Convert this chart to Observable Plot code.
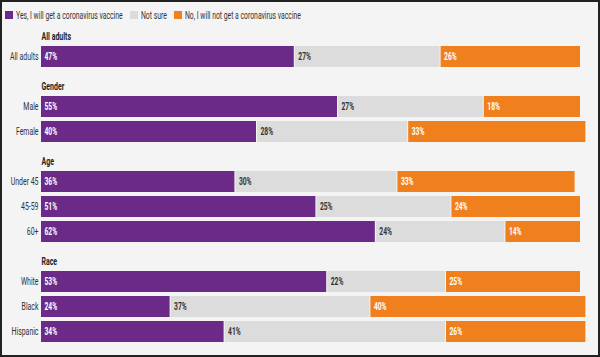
<!DOCTYPE html>
<html><head><meta charset="utf-8">
<script src="https://cdn.jsdelivr.net/npm/d3@7"></script>
<script src="https://cdn.jsdelivr.net/npm/@observablehq/plot@0.6"></script>
<style>
body{margin:0;}
#frame{width:600px;height:357px;box-sizing:border-box;border:2px solid #222;background:#f4f4f4;font-family:Roboto,sans-serif;color:#333;overflow:hidden;}
#legend{height:26px;display:flex;align-items:center;padding-left:3px;font-size:10.5px;white-space:nowrap;}
.item{display:flex;align-items:center;margin-right:7px;}
.sw{width:8px;height:8px;margin-right:3px;flex:none;}
.item span{display:inline-block;transform-origin:0 50%;}
#chart svg{display:block;}
</style></head><body>
<div id="frame"><div id="legend"></div><div id="chart"></div></div>
<script>
const seriesNames = ["Yes, I will get a coronavirus vaccine", "Not sure", "No, I will not get a coronavirus vaccine"];
const seriesColors = ["#6b2a87", "#dcdcdc", "#f07f1e"];
const groups = ["All adults", "Gender", "Age", "Race"];
const rowLabels = ["All adults", "Male", "Female", "Under 45", "45-59", "60+", "White", "Black", "Hispanic"];
const rowGroup = ["All adults", "Gender", "Gender", "Age", "Age", "Age", "Race", "Race", "Race"];
const yesValues = [47, 55, 40, 36, 51, 62, 53, 24, 34];
const notSureValues = [27, 27, 28, 30, 25, 24, 22, 37, 41];
const noValues = [26, 18, 33, 33, 24, 14, 25, 40, 26];

const seriesValues = [yesValues, notSureValues, noValues];
const data = [];
rowLabels.forEach((r, i) => {
  seriesValues.forEach((arr, j) => data.push({row: r, group: rowGroup[i], series: seriesNames[j], value: arr[i]}));
});
const domain = [];
groups.forEach((g, gi) => {
  if (gi > 0) domain.push("__" + g);
  rowLabels.forEach((r, i) => { if (rowGroup[i] === g) domain.push(r); });
});
const headers = groups.map(g => ({group: g, row: rowLabels[rowGroup.indexOf(g)]}));

// legend (condensed text)
const legend = document.getElementById("legend");
const legendScale = 0.65;
seriesNames.forEach((s, i) => {
  const it = document.createElement("div"); it.className = "item";
  const sw = document.createElement("div"); sw.className = "sw"; sw.style.background = seriesColors[i];
  const tx = document.createElement("span"); tx.textContent = s;
  it.appendChild(sw); it.appendChild(tx); legend.appendChild(it);
  const w = tx.getBoundingClientRect().width;
  tx.style.transform = `scaleX(${legendScale})`;
  tx.style.marginRight = `${-(1 - legendScale) * w}px`;
});

const chart = Plot.plot({
  width: 596, height: 327,
  marginLeft: 39, marginRight: 17, marginTop: 14, marginBottom: 9,
  x: {domain: [0, 100], axis: null},
  y: {domain, paddingInner: 0.18, paddingOuter: 0.09},
  color: {domain: seriesNames, range: seriesColors},
  style: {fontFamily: "Roboto, sans-serif", fontSize: "10px", color: "#333", background: "transparent", overflow: "visible"},
  marks: [
    Plot.barX(data, Plot.stackX({x: "value", y: "row", fill: "series", insetRight: 1})),
    Plot.text(data, Plot.stackX1({x: "value", y: "row", text: d => d.series === "Not sure" ? d.value + "%" : "", fill: "#333", textAnchor: "start", dx: 3, fontWeight: "bold", fontSize: 10.5})),
    Plot.text(data, Plot.stackX1({x: "value", y: "row", text: d => d.series !== "Not sure" ? d.value + "%" : "", fill: "white", textAnchor: "start", dx: 3, fontWeight: "bold", fontSize: 10.5})),
    Plot.text(headers, {x: () => 0, y: "row", text: "group", dy: -20, textAnchor: "start", fontWeight: "bold", fill: "#222", fontSize: 10}),
    Plot.axisY({tickSize: 0, tickPadding: 3, label: null, tickFormat: d => d.startsWith("__") ? "" : d, fontSize: 10.5})
  ]
});
document.getElementById("chart").appendChild(chart);

// narrow the type, as in the original's condensed face
function condense(texts, s) {
  texts.forEach(t => {
    let tr = t.getAttribute("transform");
    if (!tr) {
      const x = t.getAttribute("x") || 0, y = t.getAttribute("y") || 0;
      t.removeAttribute("x"); t.removeAttribute("y");
      tr = `translate(${x},${y})`;
    }
    t.setAttribute("transform", `${tr} scale(${s},1)`);
  });
}
const textGroups = chart.querySelectorAll('g[aria-label="text"]');
condense(textGroups[0].querySelectorAll("text"), 0.64);
condense(textGroups[1].querySelectorAll("text"), 0.64);
condense(textGroups[2].querySelectorAll("text"), 0.70);
condense(chart.querySelectorAll('g[aria-label="y-axis tick label"] text'), 0.66);
</script>
</body></html>
